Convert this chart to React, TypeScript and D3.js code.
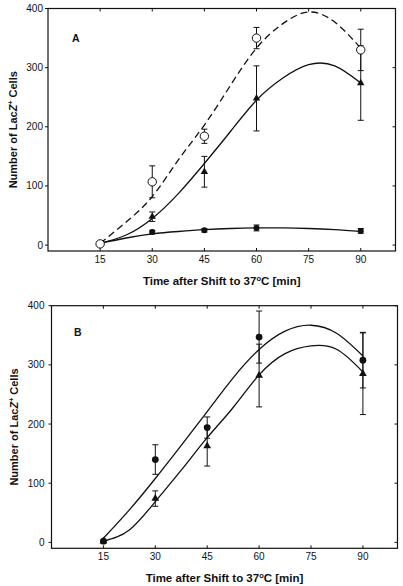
import React from "react";
import * as d3 from "d3";

const W = 403;
const H = 586;

// sampling times (min)
const times = [15, 30, 45, 60, 75, 90];
const yTicks = [0, 100, 200, 300, 400];
const pointTimes = [15, 30, 45, 60, 90];

// Panel A data
const aOpen = [2, 107, 184, 350, 330];
const aOpenErr = [0, 27, 12, 18, 35];
const aTri = [2, 48, 124, 248, 274];
const aTriErr = [0, 8, 26, 55, 63];
const aFilled = [2, 22, 25, 29, 24];
const aFilledErr = [0, 3, 3, 5, 4];

// Panel B data
const bCircle = [2, 140, 194, 347, 308];
const bCircleErr = [0, 25, 18, 44, 47];
const bTri = [2, 74, 163, 282, 285];
const bTriErr = [0, 13, 34, 53, 69];

// fitted curves
const curveX = [15, 22.5, 30, 37.5, 45, 52.5, 60, 67.5, 75, 82.5, 90];
const aOpenFit = [3, 39, 82, 144, 203, 270, 333, 374, 394, 377, 333];
const aTriFit = [3, 17, 45, 87, 138, 192, 245, 282, 305, 303, 274];
const aFilledFit = [3, 12, 19, 23, 26, 28, 29, 29, 28, 26, 23];
const bCircleFit = [7, 55, 108, 164, 221, 278, 326, 357, 367, 353, 315];
const bTriFit = [2, 21, 69, 122, 177, 228, 283, 319, 332, 326, 288];

const FONT = "'Liberation Sans', Arial, Helvetica, sans-serif";
const INK = "#111";

type Series = {
  vals: number[];
  err: number[];
  marker: "open" | "filled" | "tri";
  r: number;
};

type PanelProps = {
  label: string;
  xr: [number, number];
  yr: [number, number];
  series: Series[];
  fits: { vals: number[]; dashed: boolean }[];
  labelPos: [number, number];
  yTitleX: number;
  yTickGap: number;
};

function Panel({ label, xr, yr, series, fits, labelPos, yTitleX, yTickGap }: PanelProps) {
  const x = d3.scaleLinear().domain([0, 100]).range(xr);
  const y = d3.scaleLinear().domain([-10, 400]).range(yr);
  const line = d3
    .line<number>()
    .x((_, i) => x(curveX[i]))
    .y((v) => y(v))
    .curve(d3.curveNatural);
  const tri = d3.symbol().type(d3.symbolTriangle);
  const left = xr[0];
  const right = xr[1];
  const bottom = yr[0];
  const top = yr[1];
  const tk = 3;
  return (
    <g>
      <rect x={left} y={top} width={right - left} height={bottom - top} fill="none" stroke={INK} strokeWidth={1.2} />
      {yTicks.map((t) => (
        <g key={"y" + t}>
          <line x1={left - tk} x2={left} y1={y(t)} y2={y(t)} stroke={INK} strokeWidth={1} />
          <line x1={right - tk} x2={right} y1={y(t)} y2={y(t)} stroke={INK} strokeWidth={1} />
          <text x={left - yTickGap} y={y(t)} dy="0.35em" textAnchor="end" fontSize={10} fontFamily={FONT} fill={INK}>
            {t}
          </text>
        </g>
      ))}
      {times.map((t) => (
        <g key={"x" + t}>
          <line x1={x(t)} x2={x(t)} y1={top} y2={top + tk} stroke={INK} strokeWidth={1} />
          <line x1={x(t)} x2={x(t)} y1={bottom} y2={bottom - tk} stroke={INK} strokeWidth={1} />
          <text x={x(t)} y={bottom + 12} textAnchor="middle" fontSize={10} fontFamily={FONT} fill={INK}>
            {t}
          </text>
        </g>
      ))}
      {fits.map((f, i) => (
        <path
          key={"f" + i}
          d={line(f.vals) || ""}
          fill="none"
          stroke={INK}
          strokeWidth={1.3}
          strokeDasharray={f.dashed ? "7,4" : undefined}
        />
      ))}
      {series.map((s, si) => (
        <g key={"s" + si}>
          {s.vals.map((v, i) => {
            const cx = x(pointTimes[i]);
            const e = s.err[i];
            return e > 0 ? (
              <g key={"e" + i} stroke={INK} strokeWidth={1}>
                <line x1={cx} x2={cx} y1={y(v - e)} y2={y(v + e)} />
                <line x1={cx - 3} x2={cx + 3} y1={y(v - e)} y2={y(v - e)} />
                <line x1={cx - 3} x2={cx + 3} y1={y(v + e)} y2={y(v + e)} />
              </g>
            ) : null;
          })}
          {s.vals.map((v, i) => {
            const cx = x(pointTimes[i]);
            const cy = y(v);
            if (s.marker === "tri")
              return <path key={"m" + i} d={tri.size(s.r)() || ""} transform={`translate(${cx},${cy})`} fill={INK} />;
            if (s.marker === "open")
              return <circle key={"m" + i} cx={cx} cy={cy} r={s.r} fill="#fff" stroke={INK} strokeWidth={1} />;
            return <circle key={"m" + i} cx={cx} cy={cy} r={s.r} fill={INK} />;
          })}
        </g>
      ))}
      <text x={labelPos[0]} y={labelPos[1]} fontSize={10.5} fontWeight="bold" fontFamily={FONT} fill={INK}>
        {label}
      </text>
      <text
        transform={`translate(${yTitleX},${(top + bottom) / 2}) rotate(-90)`}
        textAnchor="middle"
        fontSize={11}
        fontWeight="bold"
        fontFamily={FONT}
        fill={INK}
      >
        Number of Lac
        <tspan fontStyle="italic">Z</tspan>
        <tspan dy={-4} fontSize={7}>+</tspan>
        <tspan dy={4}> Cells</tspan>
      </text>
      <text
        x={(left + right) / 2}
        y={bottom + 34}
        textAnchor="middle"
        fontSize={11.5}
        fontWeight="bold"
        fontFamily={FONT}
        fill={INK}
      >
        Time after Shift to 37
        <tspan dy={-4} fontSize={7.5}>o</tspan>
        <tspan dy={4}>C [min]</tspan>
      </text>
    </g>
  );
}

export default function App() {
  return (
    <svg
      width={W}
      height={H}
      viewBox={`0 0 ${W} ${H}`}
      style={{ position: "absolute", left: 0, top: 0, background: "#fff" }}
    >
      <rect width={W} height={H} fill="#fff" />
      <Panel
        label="A"
        xr={[48, 395.5]}
        yr={[251, 8.5]}
        labelPos={[72, 42]}
        yTitleX={16.5}
        yTickGap={5}
        fits={[
          { vals: aOpenFit, dashed: true },
          { vals: aTriFit, dashed: false },
          { vals: aFilledFit, dashed: false },
        ]}
        series={[
          { vals: aFilled, err: aFilledErr, marker: "filled", r: 3 },
          { vals: aTri, err: aTriErr, marker: "tri", r: 24 },
          { vals: aOpen, err: aOpenErr, marker: "open", r: 4.2 },
        ]}
      />
      <Panel
        label="B"
        xr={[51.5, 397.5]}
        yr={[548.3, 305.7]}
        labelPos={[74, 336]}
        yTitleX={18.3}
        yTickGap={7}
        fits={[
          { vals: bCircleFit, dashed: false },
          { vals: bTriFit, dashed: false },
        ]}
        series={[
          { vals: bCircle, err: bCircleErr, marker: "filled", r: 3.4 },
          { vals: bTri, err: bTriErr, marker: "tri", r: 26 },
        ]}
      />
    </svg>
  );
}
